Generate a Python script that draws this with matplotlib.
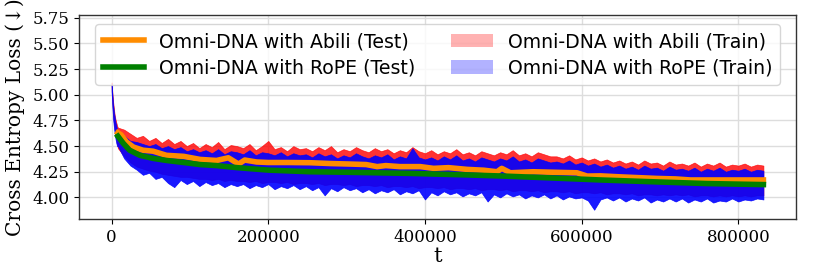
import numpy as np
import matplotlib
matplotlib.use("Agg")
import matplotlib.pyplot as plt
from matplotlib.lines import Line2D
from matplotlib.patches import Patch

# ---------------- data ----------------
# Test evaluations
t_test_abili = [8000, 12000, 19000, 28000, 40000, 53000, 70000, 92000, 113000, 134000,
                149000, 162000, 170000, 185000, 200000, 225000, 253000, 279000, 304000, 325000,
                339000, 350000, 368000, 394000, 411000, 430000, 454000, 475000, 492000, 498000,
                509000, 538000, 565000, 594000, 607000, 624000, 650000, 696000, 720000, 739000,
                780000, 832000]
loss_test_abili = [4.63, 4.61, 4.54, 4.49, 4.46, 4.45, 4.41, 4.40, 4.37, 4.36,
                   4.386, 4.325, 4.364, 4.345, 4.34, 4.34, 4.338, 4.33, 4.325, 4.32,
                   4.30, 4.31, 4.30, 4.30, 4.283, 4.29, 4.273, 4.265, 4.25, 4.283,
                   4.24, 4.25, 4.245, 4.24, 4.208, 4.21, 4.20, 4.185, 4.18, 4.17,
                   4.17, 4.17]

t_test_rope = [8000, 15000, 23000, 36000, 53000, 70000, 92000, 113000, 134000, 160000,
               200000, 253000, 300000, 380000, 450000, 500000, 560000, 624000, 700000, 760000,
               832000]
loss_test_rope = [4.596, 4.526, 4.46, 4.41, 4.38, 4.36, 4.34, 4.32, 4.31, 4.29,
                  4.266, 4.25, 4.245, 4.234, 4.22, 4.208, 4.19, 4.17, 4.15, 4.135,
                  4.125]

# Training loss: per-window max / min (windows of 1000 at the start, then 8000)
t_train = [0, 1000, 2000, 3000, 4000, 5000, 6000, 7000] + list(range(8000, 832001, 8000))

train_abili_max = [5.12, 5.02, 4.93, 4.86, 4.80, 4.76, 4.73, 4.70,
    4.68, 4.66, 4.62, 4.58, 4.60, 4.55, 4.58, 4.53, 4.57, 4.52,
    4.55, 4.50, 4.53, 4.48, 4.52, 4.49, 4.54, 4.47, 4.51, 4.50,
    4.48, 4.52, 4.46, 4.50, 4.55, 4.47, 4.49, 4.45, 4.50, 4.47,
    4.48, 4.45, 4.49, 4.46, 4.50, 4.44, 4.47, 4.45, 4.49, 4.46,
    4.44, 4.48, 4.45, 4.47, 4.43, 4.46, 4.44, 4.49, 4.45, 4.43,
    4.46, 4.42, 4.45, 4.43, 4.47, 4.42, 4.44, 4.41, 4.45, 4.43,
    4.41, 4.44, 4.42, 4.46, 4.41, 4.43, 4.40, 4.44, 4.42, 4.40,
    4.40, 4.38, 4.41, 4.37, 4.39, 4.36, 4.38, 4.35, 4.37, 4.34,
    4.36, 4.33, 4.35, 4.32, 4.36, 4.33, 4.34, 4.31, 4.35, 4.32,
    4.33, 4.31, 4.34, 4.30, 4.33, 4.31, 4.34, 4.30, 4.32, 4.31,
    4.33, 4.30, 4.32, 4.31]
train_abili_min = [5.06, 4.92, 4.80, 4.72, 4.66, 4.60, 4.56, 4.52,
    4.48, 4.40, 4.34, 4.30, 4.28, 4.26, 4.25, 4.23, 4.22, 4.21,
    4.20, 4.20, 4.19, 4.18, 4.18, 4.17, 4.18, 4.16, 4.17, 4.16,
    4.16, 4.15, 4.16, 4.14, 4.15, 4.15, 4.14, 4.15, 4.13, 4.14,
    4.14, 4.13, 4.14, 4.12, 4.13, 4.13, 4.12, 4.13, 4.11, 4.12,
    4.12, 4.11, 4.12, 4.10, 4.11, 4.11, 4.10, 4.11, 4.09, 4.10,
    4.10, 4.09, 4.10, 4.08, 4.09, 4.09, 4.08, 4.09, 4.07, 4.08,
    4.08, 4.07, 4.08, 4.06, 4.07, 4.07, 4.06, 4.07, 4.05, 4.06,
    4.06, 4.05, 4.06, 4.04, 4.05, 4.05, 4.04, 4.05, 4.03, 4.04,
    4.04, 4.03, 4.04, 4.02, 4.03, 4.03, 4.02, 4.03, 4.02, 4.03,
    4.02, 4.03, 4.01, 4.02, 4.02, 4.01, 4.02, 4.01, 4.02, 4.01,
    4.02, 4.01, 4.02, 4.02]
train_rope_max = [5.10, 5.00, 4.90, 4.83, 4.78, 4.73, 4.70, 4.66,
    4.62, 4.60, 4.55, 4.54, 4.52, 4.50, 4.52, 4.48, 4.50, 4.47,
    4.49, 4.45, 4.47, 4.44, 4.46, 4.43, 4.47, 4.42, 4.45, 4.44,
    4.42, 4.46, 4.41, 4.44, 4.43, 4.41, 4.44, 4.40, 4.43, 4.41,
    4.42, 4.39, 4.43, 4.40, 4.42, 4.38, 4.41, 4.39, 4.43, 4.40,
    4.38, 4.41, 4.39, 4.42, 4.37, 4.40, 4.38, 4.48, 4.39, 4.37,
    4.39, 4.36, 4.40, 4.37, 4.41, 4.36, 4.38, 4.35, 4.39, 4.37,
    4.35, 4.38, 4.36, 4.40, 4.35, 4.37, 4.34, 4.38, 4.36, 4.34,
    4.35, 4.33, 4.36, 4.32, 4.34, 4.31, 4.33, 4.30, 4.32, 4.29,
    4.31, 4.28, 4.30, 4.27, 4.31, 4.28, 4.29, 4.26, 4.30, 4.27,
    4.28, 4.26, 4.29, 4.25, 4.28, 4.26, 4.29, 4.25, 4.27, 4.26,
    4.28, 4.25, 4.27, 4.26]
train_rope_min = [5.03, 4.88, 4.76, 4.68, 4.62, 4.57, 4.53, 4.50,
    4.50, 4.38, 4.31, 4.27, 4.22, 4.24, 4.18, 4.20, 4.14, 4.10,
    4.17, 4.13, 4.16, 4.11, 4.15, 4.12, 4.14, 4.10, 4.13, 4.11,
    4.13, 4.09, 4.12, 4.10, 4.13, 4.08, 4.11, 4.09, 4.12, 4.08,
    4.11, 4.07, 4.10, 4.02, 4.09, 4.06, 4.10, 4.07, 4.09, 4.05,
    4.08, 4.04, 4.07, 4.05, 4.08, 4.03, 4.06, 4.04, 4.07, 3.98,
    4.05, 4.02, 4.06, 4.03, 4.05, 4.01, 4.04, 4.02, 4.05, 3.96,
    4.03, 4.00, 4.04, 4.01, 4.03, 3.99, 4.02, 4.00, 4.03, 3.99,
    4.02, 3.98, 4.01, 3.99, 4.00, 3.97, 3.88, 3.98, 4.00, 3.97,
    4.00, 3.96, 3.99, 3.97, 4.00, 3.95, 3.98, 3.96, 3.99, 3.96,
    3.99, 3.95, 3.98, 3.96, 3.99, 3.95, 3.97, 3.96, 3.99, 3.96,
    3.98, 3.97, 3.99, 3.98]

labels = ["Omni-DNA with Abili (Test)", "Omni-DNA with RoPE (Test)",
          "Omni-DNA with Abili (Train)", "Omni-DNA with RoPE (Train)"]
yticks = [4.00, 4.25, 4.50, 4.75, 5.00, 5.25, 5.50, 5.75]
xticks = [0, 200000, 400000, 600000, 800000]

# ---------------- plot ----------------
fig = plt.figure(figsize=(8.3, 2.77), dpi=100)
ax = fig.add_axes([79/830, 1-219/277, (796-79)/830, (219-15)/277])

ax.fill_between(t_train, train_abili_min, train_abili_max, color="red", alpha=0.8,
                linewidth=0.5, edgecolor="red", zorder=2)
ax.fill_between(t_train, train_rope_min, train_rope_max, color="blue", alpha=0.9,
                linewidth=0.5, edgecolor="blue", zorder=3)
ax.plot(t_test_abili, loss_test_abili, color="#ff8c00", lw=4, zorder=4, solid_joinstyle="round")
ax.plot(t_test_rope, loss_test_rope, color="green", lw=4, zorder=5, solid_joinstyle="round")

ax.set_xlim(-41600, 873600)
ax.set_ylim(3.79, 5.776)
ax.set_yticks(yticks)
ax.set_yticklabels([f"{v:.2f}" for v in yticks])
ax.set_xticks(xticks)
ax.set_xticklabels([str(v) for v in xticks])
ax.grid(True, color="#dddddd", linewidth=1.0, zorder=0)
ax.set_axisbelow(True)

for lab in ax.get_xticklabels() + ax.get_yticklabels():
    lab.set_fontfamily("DejaVu Serif")
    lab.set_fontsize(12)
ax.set_xlabel("t", fontfamily="DejaVu Serif", fontsize=15, labelpad=1)
ax.set_ylabel("Cross Entropy Loss (↓)", fontfamily="DejaVu Serif", fontsize=14.5, labelpad=5)

for s in ax.spines.values():
    s.set_color("#333333")
    s.set_linewidth(1.0)

handles = [Line2D([], [], color="#ff8c00", lw=4),
           Line2D([], [], color="green", lw=4),
           Patch(facecolor="red", alpha=0.3),
           Patch(facecolor="blue", alpha=0.3)]
ax.legend(handles, labels, loc="upper center", ncol=2,
          handlelength=2.2, labelspacing=0.4, borderpad=0.4, columnspacing=1.9,
          prop={"family": "DejaVu Sans", "size": 13.6})

fig.savefig("out.png", dpi=100)
